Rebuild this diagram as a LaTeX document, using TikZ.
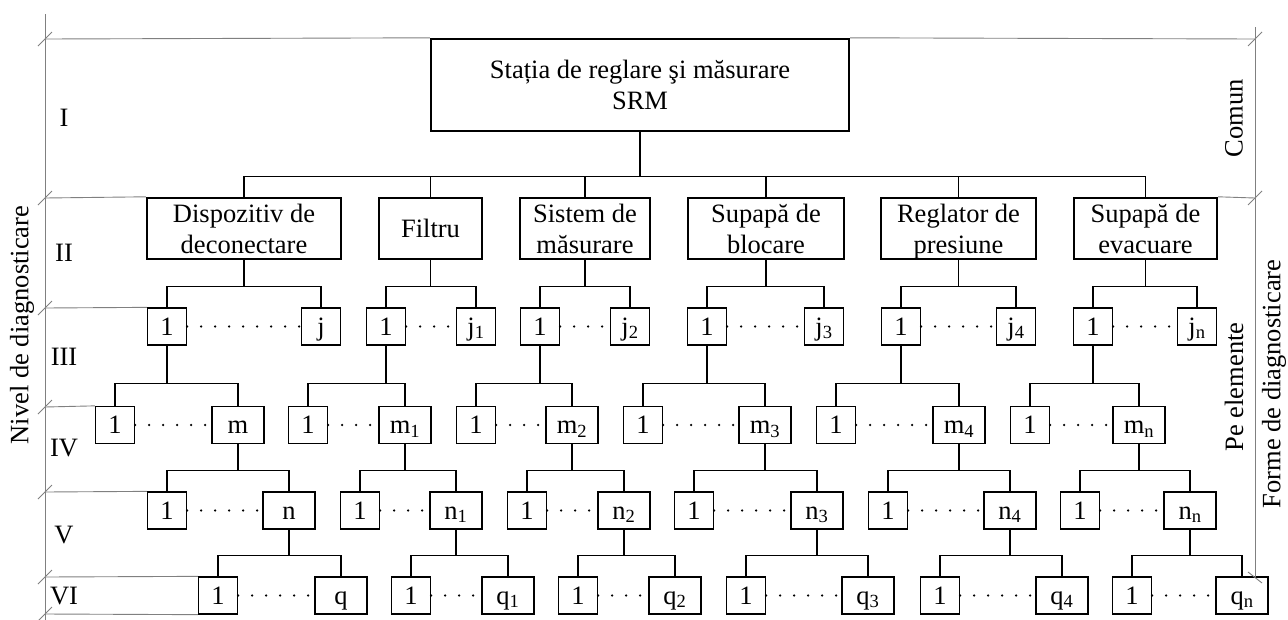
\documentclass[tikz,border=0pt]{standalone}
\usepackage{fontspec}
\setmainfont{Liberation Serif}
\usetikzlibrary{calc}

\begin{document}
\begin{tikzpicture}[x=1pt,y=-1pt,
  every node/.style={font=\fontsize{26.5}{31}\selectfont},
  frame/.style={black!50,line width=0.9pt},
  link/.style={line width=1.3pt},
  unit/.style={draw,line width=2.4pt,inner sep=0pt,align=center,text depth=0pt},
  elem/.style={draw,line width=1.3pt,inner sep=0pt,minimum width=39pt,minimum height=37pt,text height=19pt,text depth=2pt},
  elemw/.style={elem,minimum width=52pt},
  dots/.style={line width=2.6pt,line cap=round,dash pattern=on 0pt off 14pt}]
  \useasboundingbox (0,0) rectangle (1288,619);

  % level I and II
  \node[unit,minimum width=418pt,minimum height=92pt] (srm) at (640,85)
    {Stația de reglare şi măsurare\\SRM};
  \foreach \g/\x/\w/\lab in {1/244/194/{Dispozitiv de\\deconectare},2/430.5/103/Filtru,
      3/585/130/{Sistem de\\măsurare},4/766/156/{Supapă de\\blocare},
      5/958.5/155/{Reglator de\\presiune},6/1145.5/143/{Supapă de\\evacuare}}
    \node[unit,minimum width=\w pt,minimum height=61pt] (d\g) at (\x,228.5) {\lab};

  % levels III to VI
  \foreach \g/\a/\b/\lab in {1/167/321/j,2/386/476/j\textsubscript{1},3/540/630/j\textsubscript{2},
      4/707/824/j\textsubscript{3},5/901/1016/j\textsubscript{4},6/1093/1197/j\textsubscript{n}}{
    \node[elem] (u\g) at (\a,326.5) {1};
    \node[elem] (j\g) at (\b,326.5) {\lab};
    \draw[dots] (u\g) -- (j\g);
  }
  \foreach \g/\a/\b/\lab in {1/115/238/m,2/308/405/m\textsubscript{1},3/476/572/m\textsubscript{2},
      4/643/765/m\textsubscript{3},5/836/959/m\textsubscript{4},6/1030/1139/m\textsubscript{n}}{
    \node[elem] (v\g) at (\a,425) {1};
    \node[elemw] (m\g) at (\b,425) {\lab};
    \draw[dots] (v\g) -- (m\g);
  }
  \foreach \g/\a/\b/\lab in {1/167/289/n,2/360/456/n\textsubscript{1},3/527/624/n\textsubscript{2},
      4/694/817/n\textsubscript{3},5/888/1010/n\textsubscript{4},6/1080/1190/n\textsubscript{n}}{
    \node[elem] (w\g) at (\a,510.5) {1};
    \node[elemw] (n\g) at (\b,510.5) {\lab};
    \draw[dots] (w\g) -- (n\g);
  }
  \foreach \g/\a/\b/\lab in {1/218/341/q,2/411/508/q\textsubscript{1},3/578/675/q\textsubscript{2},
      4/746/868/q\textsubscript{3},5/940/1062/q\textsubscript{4},6/1132/1242/q\textsubscript{n}}{
    \node[elem] (z\g) at (\a,595.5) {1};
    \node[elemw] (q\g) at (\b,595.5) {\lab};
    \draw[dots] (z\g) -- (q\g);
  }

  % tree links
  \foreach \g in {1,...,6}{
    \draw[link] (srm.south) -- ++(0,44) -| (d\g.north);
    \draw[link] (d\g.south) -- ++(0,26) -| (u\g.north);
    \draw[link] (d\g.south) -- ++(0,26) -| (j\g.north);
    \draw[link] (u\g.south) -- ++(0,38) -| (v\g.north);
    \draw[link] (u\g.south) -- ++(0,38) -| (m\g.north);
    \draw[link] (m\g.south) -- ++(0,26) -| (w\g.north);
    \draw[link] (m\g.south) -- ++(0,26) -| (n\g.north);
    \draw[link] (n\g.south) -- ++(0,26) -| (z\g.north);
    \draw[link] (n\g.south) -- ++(0,26) -| (q\g.north);
  }

  % frame
  \draw[frame] (45,14) -- (45,621);
  \draw[frame] (1255,27) -- (1255,577);
  \foreach \y in {39,198,308,407,492,577,614}
    \draw[frame] (38,\y+7) -- (52,\y-7);
  \foreach \y in {39,198}
    \draw[frame] (1248,\y+7) -- (1262,\y-7);
  \draw[frame] (1248,572) -- (1262,583);
  \draw[frame] (45,39) -- (srm.north west) (srm.north east) -- (1255,39);
  \draw[frame] (45,198) -- (d1.north west) (d6.north east) -- (1255,198);
  \draw[frame] (45,308) -- (u1.north west);
  \draw[frame] (45,407) -- (v1.north west);
  \draw[frame] (45,492) -- (w1.north west);
  \draw[frame] (45,577) -- (z1.north west);
  \draw[frame] (45,614) -- (z1.south west);

  \foreach \y/\r in {118/I,253/II,357/III,448/IV,535/V,596/VI}
    \node (lv\r) at (64,\y) {\r};
  \node[rotate=90] (nivel) at (22,325) {Nivel de diagnosticare};
  \node[rotate=90] (comun) at (1234,118) {Comun};
  \node[rotate=90] (pe) at (1234,387) {Pe elemente};
  \node[rotate=90] (forme) at (1274,384) {Forme de diagnosticare};
\end{tikzpicture}
\end{document}
